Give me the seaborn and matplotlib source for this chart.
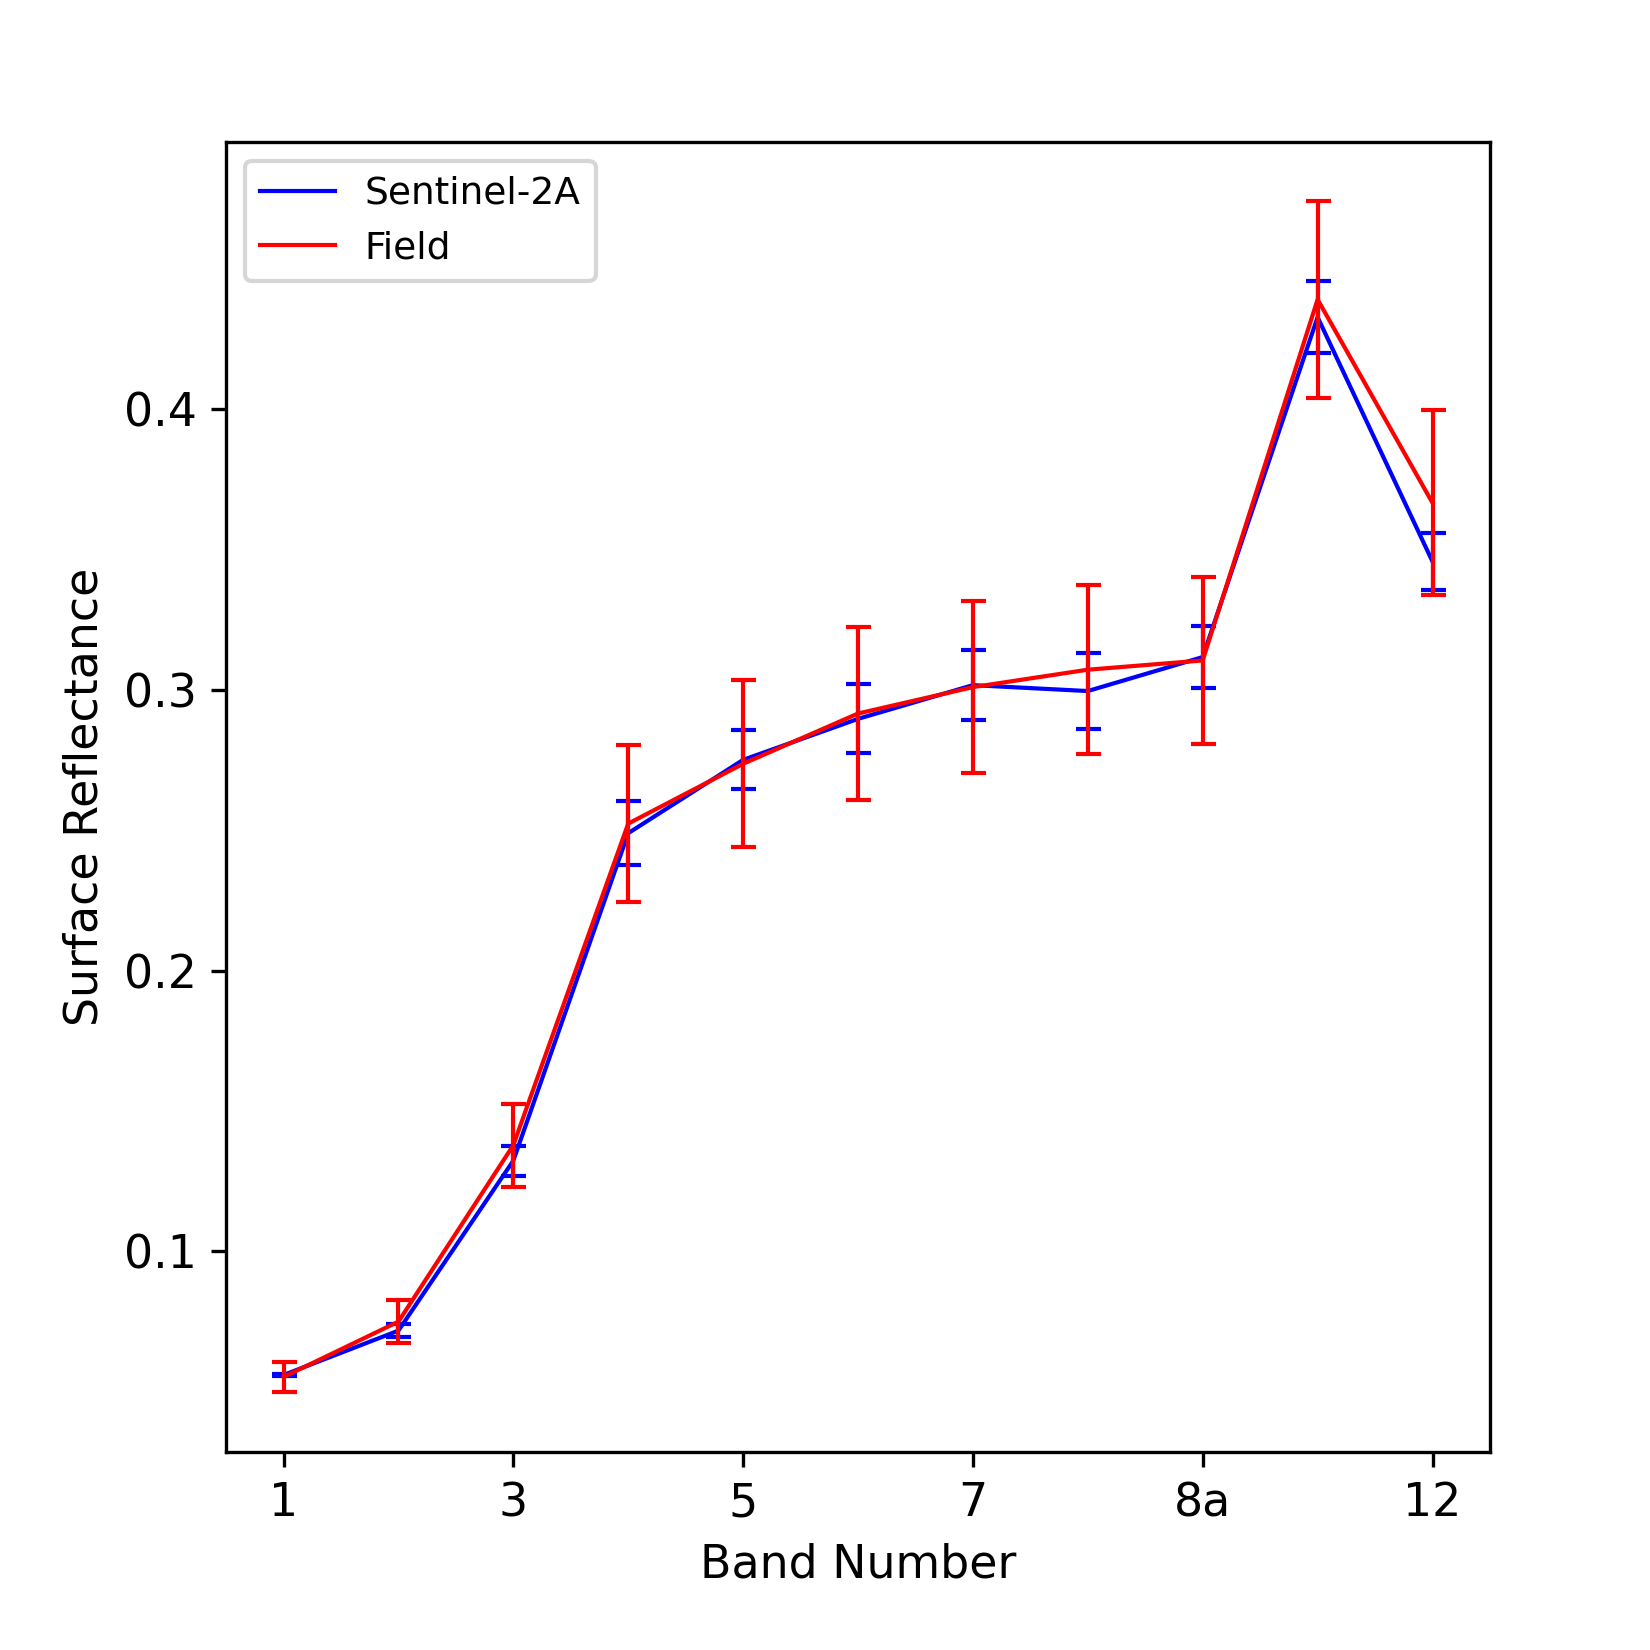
import numpy as np
import pandas as pd
import matplotlib
matplotlib.use("Agg")
import matplotlib.pyplot as plt
import seaborn as sns

# Bandas do Sentinel-2 (sem 9 e 10)
bandas = ['1', '2', '3', '4', '5', '6', '7', '8', '8a', '11', '12']

sentinel = [0.0560, 0.0718, 0.1323, 0.2489, 0.2750, 0.2896, 0.3016, 0.2995, 0.3116, 0.4326, 0.3456]
sentinel_err = [0.0005, 0.0024, 0.0054, 0.0114, 0.0105, 0.0123, 0.0125, 0.0136, 0.0110, 0.0128, 0.0102]

campo = [0.0553, 0.0750, 0.1378, 0.2523, 0.2736, 0.2915, 0.3009, 0.3071, 0.3104, 0.4389, 0.3665]
campo_err = [0.0055, 0.0077, 0.0147, 0.0279, 0.0297, 0.0308, 0.0307, 0.0300, 0.0297, 0.0349, 0.0329]

df = pd.DataFrame({
    'pos': np.arange(len(bandas)),
    'banda': bandas,
    'sentinel': sentinel,
    'sentinel_err': sentinel_err,
    'campo': campo,
    'campo_err': campo_err,
})

plt.rcParams['font.size'] = 11

fig = plt.figure(figsize=(5.5, 5.5), dpi=300)
ax = fig.add_axes([0.137, 0.12, 0.766, 0.794])

# ======================
# Sentinel-2A
# ======================
sns.lineplot(data=df, x='pos', y='sentinel', color='blue', linewidth=1,
             label='Sentinel-2A', ax=ax)
ax.errorbar(df['pos'], df['sentinel'], yerr=df['sentinel_err'], fmt='none',
            ecolor='blue', elinewidth=1, capsize=3, capthick=1)

# ======================
# Campo
# ======================
sns.lineplot(data=df, x='pos', y='campo', color='red', linewidth=1,
             label='Field', ax=ax)
ax.errorbar(df['pos'], df['campo'], yerr=df['campo_err'], fmt='none',
            ecolor='red', elinewidth=1, capsize=3, capthick=1)

ax.set_xticks(df['pos'][::2])
ax.set_xticklabels(df['banda'][::2])
ax.set_yticks([0.1, 0.2, 0.3, 0.4])
ax.set_xlabel("Band Number")
ax.set_ylabel("Surface Reflectance")
ax.legend(loc='upper left', fontsize=9)

fig.savefig("out.png", dpi=300)
